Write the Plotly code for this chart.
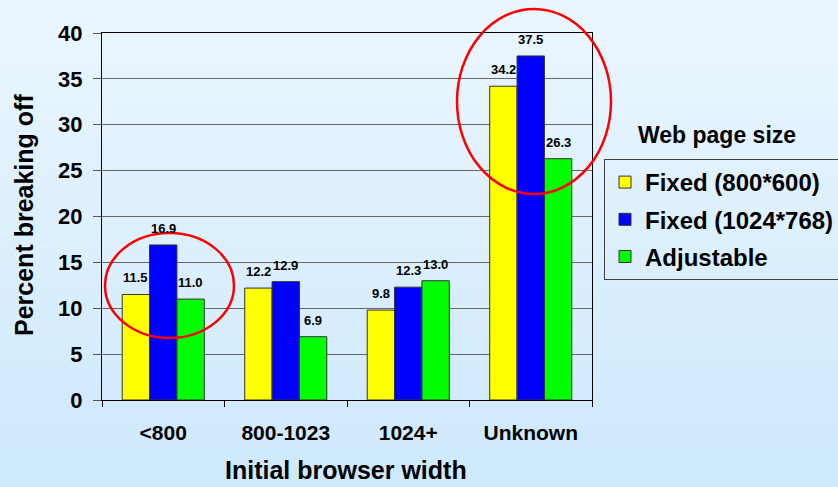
import base64
import plotly.graph_objects as go

# Data
categories = ["<800", "800-1023", "1024+", "Unknown"]
series_names = ["Fixed (800*600)", "Fixed (1024*768)", "Adjustable"]
fixed_800 = [11.5, 12.2, 9.8, 34.2]
fixed_1024 = [16.9, 12.9, 12.3, 37.5]
adjustable = [11.0, 6.9, 13.0, 26.3]
series_values = [fixed_800, fixed_1024, adjustable]
y_ticks = [0, 5, 10, 15, 20, 25, 30, 35, 40]

colors = ["#FFFF00", "#0000FF", "#00FF00"]
FONT = "Liberation Sans, Arial, sans-serif"

W, H = 838, 487
M_L, M_R, M_T, M_B = 102, 246, 33, 87
PLOT_W = W - M_L - M_R
PLOT_H = H - M_T - M_B
BARGAP = 0.33
bar_px = PLOT_W / len(categories) * (1 - BARGAP) / len(series_names)


def py(pixel_y):
    """Convert a page pixel row into paper coordinates."""
    return (M_T + PLOT_H - pixel_y) / PLOT_H


def px(pixel_x):
    """Convert a page pixel column into paper coordinates."""
    return (pixel_x - M_L) / PLOT_W


fig = go.Figure()
for k, (name, vals) in enumerate(zip(series_names, series_values)):
    fig.add_trace(go.Bar(
        x=categories, y=vals, name=f"<b>{name}</b>",
        marker=dict(color=colors[k], line=dict(color="#333333", width=1)),
        legendgroup=f"g{k}",
    ))
    # value labels above each bar
    for cat, v in zip(categories, vals):
        fig.add_annotation(
            x=cat, y=v, xref="x", yref="y", text=f"<b>{v:.1f}</b>",
            showarrow=False, yanchor="bottom", yshift=7,
            xshift=(k - 1) * bar_px,
            font=dict(family=FONT, size=13, color="#000000"),
        )

# Page background gradient
svg = (
    f'<svg xmlns="http://www.w3.org/2000/svg" width="{W}" height="{H}" preserveAspectRatio="none">'
    '<defs><linearGradient id="g" x1="0" y1="0" x2="0" y2="1">'
    '<stop offset="0" stop-color="#ebf6fe"/><stop offset="1" stop-color="#cde9fc"/>'
    '</linearGradient></defs>'
    f'<rect width="{W}" height="{H}" fill="url(#g)"/></svg>'
)
src = "data:image/svg+xml;base64," + base64.b64encode(svg.encode()).decode()
fig.add_layout_image(
    source=src, xref="paper", yref="paper",
    x=px(0), y=py(0), sizex=W / PLOT_W, sizey=H / PLOT_H,
    xanchor="left", yanchor="top", sizing="stretch", layer="below",
)

# Highlight ellipses
for x0, x1, y0, y1 in [(105, 234, 338, 233), (457, 611, 194, 9)]:
    fig.add_shape(type="circle", xref="paper", yref="paper",
                  x0=px(x0), x1=px(x1), y0=py(y0), y1=py(y1),
                  line=dict(color="#FF0000", width=2.5))

# Axis titles and legend heading
fig.add_annotation(text="<b>Initial browser width</b>", xref="paper", yref="paper",
                   x=px(346), y=py(470), xanchor="center", yanchor="middle", showarrow=False,
                   font=dict(family=FONT, size=25, color="#000000"))
fig.add_annotation(text="<b>Percent breaking off</b>", xref="paper", yref="paper",
                   x=px(24), y=py(215), xanchor="center", yanchor="middle",
                   textangle=-90, showarrow=False,
                   font=dict(family=FONT, size=25, color="#000000"))
fig.add_annotation(text="<b>Web page size</b>", xref="paper", yref="paper",
                   x=px(717), y=py(135), xanchor="center", yanchor="middle",
                   showarrow=False,
                   font=dict(family=FONT, size=23, color="#000000"))

fig.update_layout(
    width=W, height=H,
    margin=dict(l=M_L, r=M_R, t=M_T, b=M_B, autoexpand=False),
    paper_bgcolor="#dff0fd", plot_bgcolor="#FFFFFF",
    barmode="group", bargap=BARGAP, bargroupgap=0,
    font=dict(family=FONT, color="#000000"),
    legend=dict(
        x=px(604), y=py(159), xanchor="left", yanchor="top",
        bgcolor="rgba(0,0,0,0)", bordercolor="#404040", borderwidth=1,
        font=dict(family=FONT, size=24, color="#000000"),
        tracegroupgap=3, traceorder="grouped",
    ),
    showlegend=True,
)
fig.update_xaxes(
    type="category", showline=True, mirror=True, linecolor="#000000", linewidth=1,
    ticks="outside", tickson="boundaries", ticklen=6, tickcolor="#000000",
    tickfont=dict(family=FONT, size=21, color="#000000"),
    ticklabelstandoff=14,
    tickvals=categories, ticktext=[f"<b>{c}</b>" for c in categories],
    showgrid=False, automargin=False,
)
fig.update_yaxes(
    range=[0, 40], tickvals=y_ticks, ticktext=[f"<b>{t}</b>" for t in y_ticks],
    showline=True, mirror=True, linecolor="#000000", linewidth=1,
    ticks="outside", ticklen=8, tickcolor="#555555",
    tickfont=dict(family=FONT, size=22, color="#000000"),
    ticklabelstandoff=6,
    showgrid=True, gridcolor="#666666", gridwidth=1,
    zeroline=False, automargin=False,
)

fig.write_html("out.html")
